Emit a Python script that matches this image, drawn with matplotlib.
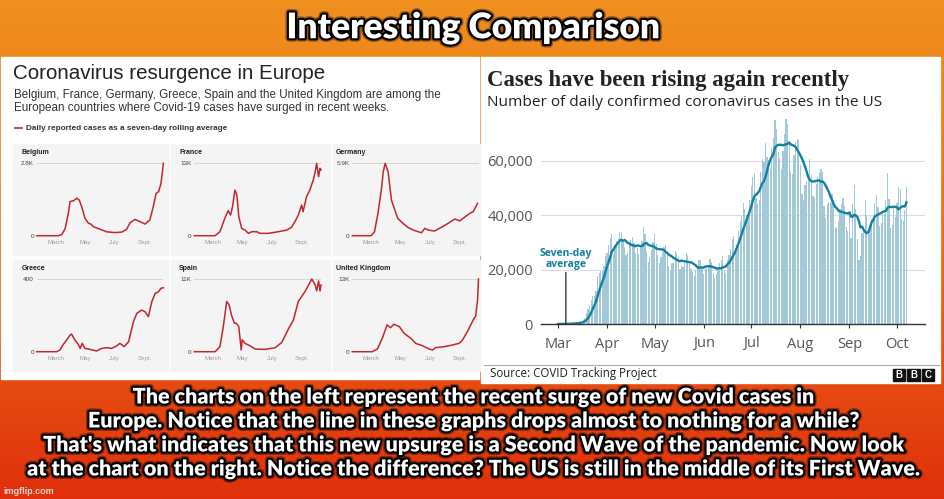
import numpy as np
import pandas as pd
import matplotlib
matplotlib.use("Agg")
import matplotlib.pyplot as plt
import matplotlib.patheffects as pe
from matplotlib.patches import Rectangle
from matplotlib.colors import LinearSegmentedColormap

W, H = 945, 499

# US daily confirmed cases (COVID Tracking Project), 1 Mar - 7 Oct 2020
us_mar = [10, 20, 30, 40, 60, 80, 120, 140, 170, 230, 280, 420, 520, 650, 780, 850,
          1500, 2200, 4100, 5400, 6700, 8900, 10400, 10200, 12300, 17700, 18700, 19500,
          20000, 21500, 24900]
us_apr = [26000, 28900, 31500, 33200, 25800, 28800, 30500, 31100, 33900, 33800, 30200,
          28200, 25500, 26200, 29800, 30800, 31900, 29700, 26100, 27800, 25800, 28800,
          30400, 35600, 33200, 26900, 22900, 24700, 27200, 30300]
us_may = [33100, 29500, 25500, 22500, 24500, 26500, 28500, 29000, 26500, 21500, 19500,
          22500, 22500, 27000, 26000, 24200, 20100, 21200, 20900, 22300, 26000, 25500,
          23000, 20100, 19000, 17800, 19700, 21500, 23600, 23700, 20500]
us_jun = [18300, 20400, 20500, 21800, 23800, 22800, 18700, 17100, 18300, 20700, 22300,
          23400, 25200, 19700, 18900, 23500, 25400, 27700, 31300, 32400, 27700, 29000,
          34300, 37500, 39600, 44500, 42500, 40000, 40100, 45600]
us_jul = [50700, 54200, 55700, 46500, 44000, 45500, 56000, 60800, 59600, 66600, 61300,
          60300, 57500, 64800, 68400, 75200, 71600, 63300, 61000, 57000, 63800, 70100,
          75600, 73700, 66300, 56200, 55100, 62300, 66800, 68100, 67800]
us_aug = [58500, 48000, 45500, 51000, 52700, 55000, 60600, 55000, 47000, 46500, 51500,
          54000, 55500, 57000, 55800, 43500, 39000, 44000, 45000, 44400, 48000, 45500,
          35800, 35500, 38000, 42500, 44200, 46300, 43600, 35600, 34300]
us_sep = [41000, 31500, 44000, 51200, 42500, 31100, 23500, 25000, 33500, 35500, 45500,
          40000, 34000, 35000, 38500, 39500, 44500, 47500, 43000, 36000, 37000, 41500,
          40500, 45500, 55500, 46000, 35500, 36500, 43000, 39500]
us_oct = [44500, 50500, 49500, 38500, 38000, 42000, 50500]
us_daily = us_mar + us_apr + us_may + us_jun + us_jul + us_aug + us_sep + us_oct

us_month_days = [0, 31, 61, 92, 122, 153, 184, 214]   # days after 1 Mar
us_month_labels = ["Mar", "Apr", "May", "Jun", "Jul", "Aug", "Sep", "Oct"]
us_yticks = [0, 20000, 40000, 60000]

# Europe: seven-day rolling average, days after 22 Jan 2020
belgium_days = [0, 45, 52, 59, 66, 69, 76, 83, 88, 93, 100, 107, 112, 117, 131, 145, 162,
                176, 186, 193, 203, 214, 224, 234, 241, 247, 252, 257, 262]
belgium_cases = [0, 0, 50, 280, 930, 1320, 1350, 1450, 1380, 1120, 670, 480, 450, 350,
                 250, 150, 120, 140, 250, 500, 630, 540, 450, 610, 1120, 1640, 1700, 2020, 2800]
france_days = [0, 43, 53, 63, 70, 75, 79, 84, 88, 92, 98, 105, 112, 119, 129, 136, 153,
               174, 191, 201, 208, 215, 222, 225, 232, 239, 246, 250, 253, 257, 260, 262]
france_cases = [0, 0, 720, 3100, 4500, 3700, 5200, 8200, 7300, 3400, 1300, 1000, 420, 720,
                720, 420, 420, 720, 1000, 1500, 2500, 3700, 5500, 4300, 7000, 8200, 10000,
                11500, 13000, 10600, 12100, 11800]
germany_days = [0, 39, 46, 53, 60, 64, 68, 74, 81, 88, 94, 105, 115, 126, 136, 143, 150,
                157, 170, 184, 198, 212, 222, 232, 243, 250, 259]
germany_cases = [0, 0, 330, 1820, 3720, 5220, 5900, 5220, 2900, 2090, 1410, 1000, 680, 460,
                 330, 240, 600, 460, 380, 680, 1000, 1360, 1200, 1500, 1820, 1960, 2640]
greece_days = [0, 41, 48, 55, 62, 69, 72, 79, 86, 90, 94, 100, 110, 124, 134, 145, 155,
               166, 172, 181, 190, 200, 207, 217, 224, 231, 238, 245, 252, 257, 262]
greece_cases = [0, 0, 9, 40, 64, 92, 97, 64, 40, 18, 46, 18, 13, 4, 18, 22, 18, 33, 46, 28,
                55, 165, 211, 229, 220, 193, 275, 321, 330, 349, 352]
spain_days = [0, 43, 53, 60, 67, 72, 77, 83, 87, 92, 97, 99, 105, 115, 126, 146, 167, 181,
              195, 205, 215, 229, 243, 250, 253, 257, 260, 262]
spain_cases = [0, 0, 760, 3800, 7600, 7100, 5500, 4300, 4300, 3800, 250, 1800, 1260, 900,
               400, 350, 600, 1400, 3500, 4800, 7600, 9100, 11000, 10100, 9200, 10700, 9200, 10100]
uk_days = [0, 41, 52, 62, 72, 79, 86, 97, 107, 121, 131, 145, 159, 166, 172, 190, 207, 221,
           228, 238, 245, 252, 255, 259, 261]
uk_cases = [0, 0, 480, 2400, 4800, 4300, 4900, 4500, 3300, 2400, 1500, 1070, 480, 300, 720,
            900, 1200, 1500, 2100, 3600, 4800, 6000, 6300, 9200, 13000]

eu_names = ["Belgium", "France", "Germany", "Greece", "Spain", "United Kingdom"]
eu_days = [belgium_days, france_days, germany_days, greece_days, spain_days, uk_days]
eu_cases = [belgium_cases, france_cases, germany_cases, greece_cases, spain_cases, uk_cases]
eu_ymax = [2800, 13000, 5900, 400, 11000, 13000]
eu_ymax_labels = ["2.8K", "13K", "5.9K", "400", "11K", "13K"]
eu_month_days = [39, 100, 161, 223]
eu_month_labels = ["March", "May", "July", "Sept."]

meme_title = "Interesting Comparison"
meme_lines = [
    "The charts on the left represent the recent surge of new Covid cases in",
    "Europe. Notice that the line in these graphs drops almost to nothing for a while?",
    "That's what indicates that this new upsurge is a Second Wave of the pandemic. Now look",
    "at the chart on the right. Notice the difference? The US is still in the middle of its First Wave.",
]

plt.rcParams["font.family"] = ["Liberation Sans", "DejaVu Sans"]

fig = plt.figure(figsize=(W / 100, H / 100), dpi=100)
renderer = fig.canvas.get_renderer()


def px_axes(x0, y0, x1, y1):
    return fig.add_axes([x0 / W, 1 - y1 / H, (x1 - x0) / W, (y1 - y0) / H])


def fit_width(t, target):
    for _ in range(3):
        w = t.get_window_extent(renderer=renderer).width
        t.set_fontsize(t.get_fontsize() * target / w)
    return t.get_fontsize()


# background canvas in pixel coordinates
bg = fig.add_axes([0, 0, 1, 1])
bg.set_xlim(0, W)
bg.set_ylim(H, 0)
bg.axis("off")
grad = np.linspace(0, 1, 256)[:, None]
cmap = LinearSegmentedColormap.from_list("meme", ["#F0901F", "#EC6C17", "#E0300C"])
bg.imshow(grad, cmap=cmap, extent=[0, W, H, 0], aspect="auto", zorder=0)
bg.add_patch(Rectangle((1, 57), 478, 322, color="white", zorder=1))
bg.add_patch(Rectangle((481, 57), 459, 326, color="white", zorder=1))

meme_fx = [pe.withStroke(linewidth=5, foreground="#00000060"),
           pe.withStroke(linewidth=3, foreground="black")]
meme_font = dict(family=["Lato", "DejaVu Sans"], weight="heavy",
                 color="white", ha="center", va="center", zorder=5)
t = bg.text(473, 28, meme_title, fontsize=24, path_effects=meme_fx, **meme_font)
fit_width(t, 373)

line_y = [397, 421, 445, 469]
texts = [bg.text(473, y, s, fontsize=14, path_effects=meme_fx, **meme_font)
         for s, y in zip(meme_lines, line_y)]
fs = fit_width(texts[-1], 892)
for tx in texts:
    tx.set_fontsize(fs)
bg.text(3, 491, "imgflip.com", fontsize=6.5, color="#F2F2F2", alpha=0.85, weight="bold",
        va="center", ha="left", zorder=5)

# ---------------- left: Europe ----------------
t = bg.text(13, 73, "Coronavirus resurgence in Europe", fontsize=14, color="#222222",
            va="center", zorder=3)
fit_width(t, 314)
t1 = bg.text(14, 95, "Belgium, France, Germany, Greece, Spain and the United Kingdom are among the",
             fontsize=8, color="#333333", va="center", zorder=3)
fs = fit_width(t1, 427)
bg.text(14, 108, "European countries where Covid-19 cases have surged in recent weeks.",
        fontsize=fs, color="#333333", va="center", zorder=3)
bg.plot([15, 22], [128, 128], color="#C1272D", lw=1.2, zorder=3)
t = bg.text(26, 128.5, "Daily reported cases as a seven-day rolling average", fontsize=6,
            weight="bold", color="#333333", va="center", zorder=3)
fit_width(t, 205)

gray_cols = [(13, 168), (171, 330), (333, 480)]
gray_rows = [(144, 255), (260, 371)]
line_x0 = [36.7, 194.3, 352.3]
title_x = [21.7, 179, 336]
plot_rows = [(163.3, 235.7), (279, 351.7)]
title_y = [152.7, 268.3]

for i, name in enumerate(eu_names):
    r, c = divmod(i, 3)
    gx0, gx1 = gray_cols[c]
    gy0, gy1 = gray_rows[r]
    bg.add_patch(Rectangle((gx0, gy0), gx1 - gx0, gy1 - gy0, color="#F4F4F4", zorder=2))
    bg.text(title_x[c], title_y[r], name, fontsize=5, weight="bold", color="#222222",
            va="center", zorder=3)
    py0, py1 = plot_rows[r]
    ax = px_axes(line_x0[c], py0, line_x0[c] + 126.7, py1)
    ax.patch.set_alpha(0)
    for s in ax.spines.values():
        s.set_visible(False)
    ax.set_xlim(0, 262)
    ax.set_ylim(0, eu_ymax[i])
    ax.axhline(eu_ymax[i], color="#CFCFCF", lw=0.6, zorder=1)
    ax.plot(eu_days[i], eu_cases[i], color="#C1272D", lw=1.1, clip_on=False, zorder=2)
    ax.set_yticks([0, eu_ymax[i]], ["0", eu_ymax_labels[i]])
    ax.set_xticks(eu_month_days, eu_month_labels)
    ax.tick_params(axis="y", length=0, labelsize=4.6, labelcolor="#444444", pad=2)
    ax.tick_params(axis="x", length=0, labelsize=4.4, labelcolor="#9A9A9A", pad=3.2)

# ---------------- right: US ----------------
t = bg.text(487, 80, "Cases have been rising again recently", fontsize=15,
            family=["Liberation Serif", "DejaVu Serif"], weight="bold", color="#222222",
            va="center", zorder=3)
fit_width(t, 363)
t = bg.text(487, 102, "Number of daily confirmed coronavirus cases in the US", fontsize=10,
            family=["Open Sans", "DejaVu Sans"], color="#222222", va="center", zorder=3)
fit_width(t, 396)

ax = px_axes(541, 106.6, 925, 324)
ax.patch.set_alpha(0)
days = np.arange(len(us_daily))
avg = pd.Series(us_daily).rolling(7, min_periods=1).mean()
ax.bar(days, us_daily, width=0.78, color="#A3C9D8", zorder=2)
ax.plot(days, avg, color="#1380A1", lw=1.7, zorder=3)
ax.set_xlim(-10.7, 231.7)
ax.set_ylim(0, 80000)
for k in ["top", "right", "left"]:
    ax.spines[k].set_visible(False)
ax.spines["bottom"].set_color("#333333")
ax.spines["bottom"].set_linewidth(1.0)
ax.spines["bottom"].set_zorder(4)
ax.set_yticks(us_yticks, [f"{v:,}" for v in us_yticks])
ax.yaxis.grid(True, color="#DDDDDD", lw=0.8)
ax.set_axisbelow(True)
ax.set_xticks(us_month_days, us_month_labels)
ax.tick_params(axis="y", length=0, pad=5.8, labelsize=10.5, labelcolor="#555555")
ax.tick_params(axis="x", length=3, width=0.8, color="#333333", pad=6,
               labelsize=10.5, labelcolor="#555555")
for lab in ax.get_xticklabels() + ax.get_yticklabels():
    lab.set_family(["Open Sans", "DejaVu Sans"])

ax.annotate("Seven-day\naverage", xy=(5, avg[5]), xytext=(5, 20000), ha="center",
            va="bottom", fontsize=7.5, weight="bold", color="#1380A1",
            family=["Open Sans", "DejaVu Sans"], linespacing=0.95,
            arrowprops=dict(arrowstyle="-", color="#222222", lw=0.9, shrinkA=0, shrinkB=0),
            zorder=5)

bg.plot([484, 939], [365, 365], color="#AAAAAA", lw=0.8, zorder=3)
t = bg.text(490, 374, "Source: COVID Tracking Project", fontsize=7.5,
            family=["Open Sans", "DejaVu Sans"], color="#222222", va="center", zorder=3)
fit_width(t, 167)
for x0, letter in zip([893, 907.3, 921.6], "BBC"):
    bg.add_patch(Rectangle((x0, 369), 12.4, 12, color="#111111", zorder=3))
    bg.text(x0 + 6.2, 375.3, letter, fontsize=7, weight="bold", color="white",
            ha="center", va="center", zorder=4)

fig.savefig("out.png", dpi=100)
